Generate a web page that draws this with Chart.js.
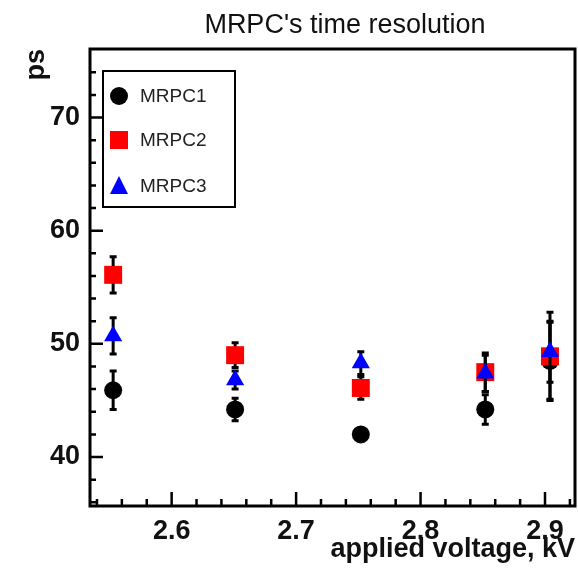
<!DOCTYPE html>
<html>
<head>
<meta charset="utf-8">
<script src="https://cdn.jsdelivr.net/npm/chart.js@4.4.0/dist/chart.umd.min.js"></script>
<style>
  body { margin: 0; background: #fff; }
  #wrap { width: 578px; height: 569px; }
</style>
</head>
<body>
<div id="wrap"><canvas id="grafico"></canvas></div>
<script>
// applied voltage (kV) for each measurement
const voltages = [2.553, 2.651, 2.752, 2.852, 2.904];

// time resolution, ps, and its errors
const mrpc1 = [45.9, 44.2, 42.0, 44.2, 48.5];
const mrpc1Err = [1.7, 1.0, 0.5, 1.3, 3.4];
const mrpc2 = [56.1, 49.0, 46.1, 47.5, 48.9];
const mrpc2Err = [1.6, 1.1, 1.0, 1.7, 3.9];
const mrpc3 = [50.7, 46.8, 48.3, 47.4, 49.3];
const mrpc3Err = [1.6, 0.8, 1.0, 1.6, 2.7];

const xTicks = [2.6, 2.7, 2.8, 2.9];
const yTicks = [40, 50, 60, 70];

const FONT = "'Liberation Sans', Arial, Helvetica, sans-serif";

const toPoints = (vals) => vals.map((v, i) => ({ x: voltages[i], y: v }));

const series = [
    { label: 'MRPC1', data: mrpc1, err: mrpc1Err, color: '#000000', style: 'circle', radius: 9, order: 2 },
    { label: 'MRPC2', data: mrpc2, err: mrpc2Err, color: '#ff0000', style: 'rect', radius: 12.7, order: 1 },
    { label: 'MRPC3', data: mrpc3, err: mrpc3Err, color: '#0000ff', style: 'triangle', radius: 10.5, order: 0 }
];

// error bars drawn under each dataset's markers (like ROOT does)
const errorBars = {
    id: 'errorBars',
    beforeDatasetDraw(chart, args) {
        const s = series[args.index];
        const xs = chart.scales.x, ys = chart.scales.y;
        const ctx = chart.ctx;
        ctx.save();
        ctx.strokeStyle = '#000';
        ctx.lineWidth = 3;
        s.data.forEach((v, i) => {
            const px = xs.getPixelForValue(voltages[i]);
            const top = ys.getPixelForValue(v + s.err[i]);
            const bot = ys.getPixelForValue(v - s.err[i]);
            ctx.beginPath();
            ctx.moveTo(px, top); ctx.lineTo(px, bot);
            ctx.moveTo(px - 3.5, top); ctx.lineTo(px + 3.5, top);
            ctx.moveTo(px - 3.5, bot); ctx.lineTo(px + 3.5, bot);
            ctx.stroke();
        });
        ctx.restore();
    }
};

function marker(ctx, style, x, y, color) {
    ctx.fillStyle = color;
    ctx.beginPath();
    if (style === 'circle') {
        ctx.arc(x, y, 9, 0, Math.PI * 2);
    } else if (style === 'rect') {
        ctx.rect(x - 9, y - 9, 18, 18);
    } else {
        ctx.moveTo(x, y - 10);
        ctx.lineTo(x + 9, y + 8);
        ctx.lineTo(x - 9, y + 8);
        ctx.closePath();
    }
    ctx.fill();
}

// frame, inward ticks, title and legend box
const frame = {
    id: 'frame',
    afterDraw(chart) {
        const { ctx, chartArea: a } = chart;
        const xs = chart.scales.x, ys = chart.scales.y;
        ctx.save();
        ctx.strokeStyle = '#000';
        ctx.lineWidth = 3;
        ctx.strokeRect(a.left, a.top, a.right - a.left, a.bottom - a.top);

        ctx.lineWidth = 2.5;
        ctx.beginPath();
        for (let k = 0; k <= 20; k++) {
            const v = 36 + k * 2;
            const py = ys.getPixelForValue(v);
            if (py < a.top + 2) continue;
            const len = (v % 10 === 0) ? 13 : 6;
            ctx.moveTo(a.left, py); ctx.lineTo(a.left + len, py);
        }
        for (let k = 0; k <= 19; k++) {
            const v = Math.round((2.54 + k * 0.02) * 100) / 100;
            const px = xs.getPixelForValue(v);
            if (px > a.right - 2) continue;
            const len = (Math.round(v * 100) % 10 === 0) ? 14 : 7;
            ctx.moveTo(px, a.bottom); ctx.lineTo(px, a.bottom - len);
        }
        ctx.stroke();

        // title
        ctx.fillStyle = '#111';
        ctx.font = '27px ' + FONT;
        ctx.textAlign = 'center';
        ctx.textBaseline = 'alphabetic';
        ctx.fillText("MRPC's time resolution", 345, 33);

        // legend
        ctx.fillStyle = '#fff';
        ctx.fillRect(103, 71, 132, 136);
        ctx.lineWidth = 2;
        ctx.strokeRect(103, 71, 132, 136);
        const rows = [96, 140, 186];
        series.forEach((s, i) => {
            marker(ctx, s.style, 119, rows[i], s.color);
            ctx.fillStyle = '#222';
            ctx.font = '19px ' + FONT;
            ctx.textAlign = 'left';
            ctx.textBaseline = 'middle';
            ctx.fillText(s.label, 140, rows[i] + 1);
        });
        ctx.restore();
    }
};

const ctx = document.getElementById('grafico').getContext('2d');

new Chart(ctx, {
    type: 'scatter',
    data: {
        datasets: series.map(s => ({
            label: s.label,
            data: toPoints(s.data),
            backgroundColor: s.color,
            borderColor: s.color,
            borderWidth: 0,
            pointStyle: s.style,
            pointRadius: s.radius,
            pointHoverRadius: s.radius,
            order: s.order
        }))
    },
    options: {
        responsive: true,
        maintainAspectRatio: false,
        animation: false,
        layout: { autoPadding: false, padding: { top: 49, right: 3, left: 0, bottom: 0 } },
        scales: {
            x: {
                type: 'linear',
                min: 2.5344,
                max: 2.9241,
                afterBuildTicks: (axis) => { axis.ticks = xTicks.map(v => ({ value: v })); },
                afterFit: (axis) => {
                    axis.height = 63;
                    axis.paddingLeft = 0;
                    axis.paddingRight = 0;
                },
                grid: { display: false, drawTicks: false },
                border: { display: false },
                ticks: {
                    padding: 9,
                    color: '#111',
                    maxRotation: 0,
                    autoSkip: false,
                    font: { family: FONT, size: 27, weight: 'bold' },
                    callback: (v) => v.toFixed(1)
                },
                title: {
                    display: true,
                    text: 'applied voltage, kV',
                    align: 'end',
                    color: '#111',
                    padding: { top: 0, bottom: 3 },
                    font: { family: FONT, size: 27, weight: 'bold' }
                }
            },
            y: {
                min: 35.67,
                max: 76.06,
                afterBuildTicks: (axis) => { axis.ticks = yTicks.map(v => ({ value: v })); },
                afterFit: (axis) => {
                    axis.width = 90;
                    axis.paddingTop = 0;
                    axis.paddingBottom = 0;
                },
                grid: { display: false, drawTicks: false },
                border: { display: false },
                ticks: {
                    padding: 10,
                    color: '#111',
                    autoSkip: false,
                    font: { family: FONT, size: 27, weight: 'bold' }
                },
                title: {
                    display: true,
                    text: 'ps',
                    align: 'end',
                    color: '#111',
                    padding: { top: 20, bottom: 0 },
                    font: { family: FONT, size: 27, weight: 'bold' }
                }
            }
        },
        plugins: {
            legend: { display: false },
            tooltip: { enabled: false }
        }
    },
    plugins: [errorBars, frame]
});
</script>
</body>
</html>
